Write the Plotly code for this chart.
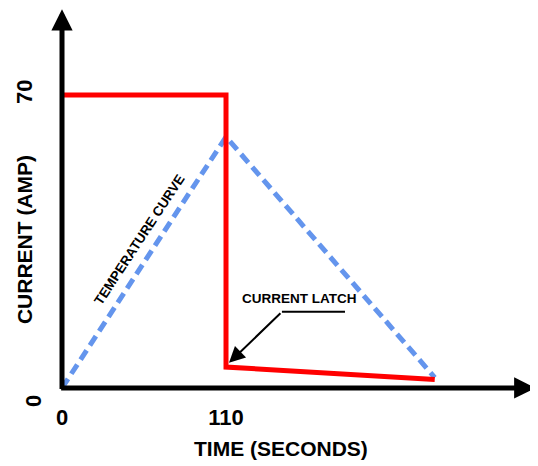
import plotly.graph_objects as go

# ---- data ----
current_time = [0, 110, 110, 250]
current_amp = [70, 70, 5, 2]
temp_time = [0, 110, 250]
temp_value = [0, 60, 2.5]
x_tick_vals = [0, 110]
x_tick_text = ["0", "110"]
y_tick_vals = [70]
y_tick_text = ["70"]

FONT = "Liberation Sans, Arial, sans-serif"

fig = go.Figure()
fig.add_trace(go.Scatter(x=temp_time, y=temp_value, mode="lines",
                         line=dict(color="#6495ED", width=5, dash="11px,6px"),
                         hoverinfo="skip", showlegend=False))
fig.add_trace(go.Scatter(x=current_time, y=current_amp, mode="lines",
                         line=dict(color="#FF0000", width=5),
                         hoverinfo="skip", showlegend=False))

annotations = [
    # axis arrows
    dict(x=317.5, y=0, ax=-1.6, ay=0, xref="x", yref="y", axref="x", ayref="y",
         text="", showarrow=True, arrowhead=2, arrowsize=0.85, arrowwidth=5,
         arrowcolor="black", standoff=0, startstandoff=0),
    dict(x=0, y=90.5, ax=0, ay=-0.6, xref="x", yref="y", axref="x", ayref="y",
         text="", showarrow=True, arrowhead=2, arrowsize=0.85, arrowwidth=5,
         arrowcolor="black", standoff=0, startstandoff=0),
    # current latch pointer
    dict(x=112, y=6, ax=147.5, ay=18.2, xref="x", yref="y", axref="x", ayref="y",
         text="", showarrow=True, arrowhead=2, arrowsize=1.6, arrowwidth=2,
         arrowcolor="black", standoff=0, startstandoff=0),
    dict(x=159.6, y=21.3, xref="x", yref="y", text="<b>CURRENT LATCH</b>",
         showarrow=False, font=dict(family=FONT, size=13.5, color="black")),
    dict(x=52, y=35.5, xref="x", yref="y", text="<b>TEMPERATURE CURVE</b>",
         showarrow=False, textangle=-56.7,
         font=dict(family=FONT, size=13.5, color="black")),
    # y-axis zero label
    dict(x=0, y=0, xref="x", yref="y", text="<b>0</b>", showarrow=False,
         textangle=-90, xshift=-28, yshift=-13,
         font=dict(family=FONT, size=22, color="black")),
    # axis titles
    dict(x=0.483, y=-0.1237, xref="paper", yref="paper", text="<b>TIME (SECONDS)</b>",
         showarrow=False, xanchor="center", yanchor="middle",
         font=dict(family=FONT, size=21, color="black")),
    dict(x=-0.0321, y=0.408, xref="paper", yref="paper", text="<b>CURRENT (AMP)</b>",
         showarrow=False, textangle=-90, xanchor="center", yanchor="middle",
         font=dict(family=FONT, size=21, color="black")),
]

shapes = [
    dict(type="line", xref="x", yref="y", x0=147.5, x1=189.8, y0=18.2, y1=18.2,
         line=dict(color="black", width=2)),
]

fig.update_layout(
    width=530, height=458,
    margin=dict(l=32, r=0, t=0, b=66, autoexpand=False),
    paper_bgcolor="white", plot_bgcolor="white",
    annotations=annotations, shapes=shapes,
    xaxis=dict(range=[-14.76, 319.25], showgrid=False, zeroline=False, showline=False,
               automargin=False,
               tickvals=x_tick_vals, ticktext=["<b>%s</b>" % t for t in x_tick_text],
               ticks="", ticklabelstandoff=2,
               tickfont=dict(family=FONT, size=22, color="black")),
    yaxis=dict(range=[-2.87, 90.78], showgrid=False, zeroline=False, showline=False,
               automargin=False,
               tickvals=y_tick_vals, ticktext=["<b>%s</b>" % t for t in y_tick_text],
               ticks="", tickangle=-90, ticklabelstandoff=3,
               tickfont=dict(family=FONT, size=22, color="black")),
)

fig.write_html("out.html")
